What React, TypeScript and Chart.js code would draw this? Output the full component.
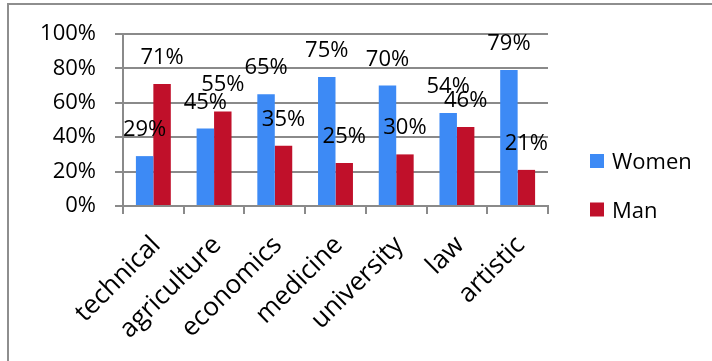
import React, { useEffect, useRef } from 'react';
import { Chart, registerables } from 'chart.js';

Chart.register(...registerables);

const categories = ['technical', 'agriculture', 'economics', 'medicine', 'university', 'law', 'artistic'];
const womenValues = [29, 45, 65, 75, 70, 54, 79];
const manValues = [71, 55, 35, 25, 30, 46, 21];
const seriesNames = ['Women', 'Man'];
const seriesColors = ['#3D8AF5', '#C0102A'];
const yMax = 100;
const yStep = 20;

const FONT_FAMILY = '"Open Sans", sans-serif';
const FONT_SIZE = 22;
const GRID = '#8a8a8a';

export default function App() {
  const canvasRef = useRef<HTMLCanvasElement>(null);

  useEffect(() => {
    const canvas = canvasRef.current;
    if (!canvas) return;

    const valueLabels = {
      id: 'valueLabels',
      afterDatasetsDraw(chart: any) {
        const ctx = chart.ctx;
        ctx.save();
        ctx.font = `${FONT_SIZE}px ${FONT_FAMILY}`;
        ctx.fillStyle = '#000';
        ctx.textAlign = 'center';
        ctx.textBaseline = 'alphabetic';
        chart.data.datasets.forEach((ds: any, i: number) => {
          const meta = chart.getDatasetMeta(i);
          meta.data.forEach((bar: any, j: number) => {
            ctx.fillText(`${ds.data[j]}%`, bar.x, bar.y - 20);
          });
        });
        ctx.restore();
      },
    };

    const sideLegend = {
      id: 'sideLegend',
      afterDraw(chart: any) {
        const { ctx, chartArea } = chart;
        ctx.save();
        ctx.font = `${FONT_SIZE}px ${FONT_FAMILY}`;
        ctx.textAlign = 'left';
        ctx.textBaseline = 'alphabetic';
        chart.data.datasets.forEach((ds: any, i: number) => {
          const boxX = chartArea.right + 42;
          const boxY = chartArea.top + 120 + i * 48.5;
          ctx.fillStyle = ds.backgroundColor;
          ctx.fillRect(boxX, boxY, 14, 14);
          ctx.fillStyle = '#000';
          ctx.fillText(ds.label, boxX + 22, boxY + 15);
        });
        ctx.restore();
      },
    };

    const chart = new Chart(canvas, {
      type: 'bar',
      data: {
        labels: categories,
        datasets: [
          { label: seriesNames[0], data: womenValues, backgroundColor: seriesColors[0], barPercentage: 1, categoryPercentage: 0.575 },
          { label: seriesNames[1], data: manValues, backgroundColor: seriesColors[1], barPercentage: 1, categoryPercentage: 0.575 },
        ],
      },
      options: {
        responsive: false,
        animation: false,
        layout: { padding: { top: 34, left: 0, right: 164, bottom: 0 } },
        plugins: {
          legend: { display: false },
          tooltip: { enabled: false },
          title: { display: false },
        },
        scales: {
          x: {
            offset: true,
            grid: { drawOnChartArea: false, drawTicks: true, tickLength: 8, color: GRID, lineWidth: 2 },
            border: { display: true, color: GRID, width: 2 },
            ticks: {
              autoSkip: false,
              maxRotation: 45,
              minRotation: 45,
              padding: 16,
              labelOffset: 3,
              color: '#000',
              font: { family: FONT_FAMILY, size: 26 },
            },
            afterFit(scale: any) {
              scale.height = 155;
            },
          },
          y: {
            min: 0,
            max: yMax,
            ticks: {
              stepSize: yStep,
              padding: 19,
              color: '#000',
              font: { family: FONT_FAMILY, size: FONT_SIZE },
              callback: (v: any) => `${v}%`,
            },
            grid: { drawTicks: true, tickLength: 8, color: GRID, lineWidth: 2 },
            border: { display: true, color: GRID, width: 2 },
            afterFit(scale: any) {
              scale.width = 123;
            },
          },
        },
      },
      plugins: [valueLabels, sideLegend],
    });

    return () => chart.destroy();
  }, []);

  return (
    <div style={{ position: 'fixed', left: 0, top: 0, width: 712, height: 361, background: '#fff' }}>
      <div
        style={{
          position: 'absolute',
          left: 7,
          top: 3,
          right: 0,
          bottom: 0,
          borderLeft: '2px solid #8e8e8e',
          borderTop: '2px solid #8e8e8e',
        }}
      />
      <canvas ref={canvasRef} width={712} height={361} style={{ position: 'absolute', left: 0, top: 0 }} />
    </div>
  );
}
